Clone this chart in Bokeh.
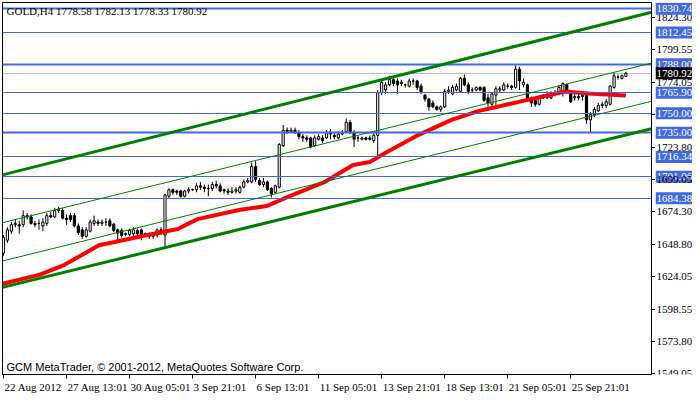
from bokeh.plotting import figure
from bokeh.layouts import column, row
from bokeh.models import Range1d, FixedTicker, Label, ColumnDataSource
from bokeh.core.properties import value
from bokeh.embed import file_html
from bokeh.resources import INLINE

# ---------------- data ----------------
bar_open = [1642, 1652, 1659, 1664, 1664, 1664, 1671, 1670, 1665, 1665,
            1663, 1665, 1671, 1670, 1675, 1675, 1669, 1671, 1671, 1663,
            1660, 1655, 1659, 1665, 1666, 1665, 1666, 1667, 1664.5, 1660,
            1659.5, 1657, 1656.5, 1657, 1659.5, 1660, 1657, 1657, 1655, 1656,
            1660, 1656, 1686, 1691, 1690, 1690, 1686, 1690, 1691, 1691,
            1694, 1693, 1692, 1692, 1695, 1694, 1691, 1690, 1689, 1690,
            1689, 1693, 1697, 1697, 1709, 1698, 1695, 1697, 1692, 1689,
            1693, 1725, 1737, 1736, 1737, 1735, 1732, 1731, 1731, 1725,
            1730, 1731, 1731, 1735, 1733, 1731, 1734, 1736, 1743, 1735,
            1731, 1730, 1731, 1731, 1729, 1733, 1766, 1768, 1772, 1776,
            1775, 1773, 1772, 1771, 1775, 1775, 1771, 1764, 1761, 1758,
            1755, 1753, 1755, 1767, 1765, 1768, 1767, 1777, 1772, 1768,
            1768, 1770, 1770, 1762, 1757, 1764, 1768, 1768, 1771, 1771,
            1770, 1784, 1772, 1772, 1761, 1760, 1757, 1763, 1762, 1762,
            1766, 1765, 1766, 1772, 1765, 1762, 1763, 1763, 1764, 1745,
            1749, 1752, 1756, 1756, 1757, 1770, 1778, 1777, 1778.58]
bar_high = [1656, 1662, 1666, 1668, 1667, 1675, 1673, 1672, 1667, 1668,
            1669, 1673, 1674, 1677, 1678, 1677, 1672, 1673, 1673, 1665,
            1662, 1662, 1668, 1671, 1668, 1668, 1669, 1669, 1665, 1661,
            1661, 1658, 1661, 1662, 1661, 1661, 1658, 1658, 1658, 1661,
            1662, 1688, 1692, 1692, 1691, 1691, 1691, 1693, 1692, 1696,
            1697, 1695, 1695, 1697, 1698, 1696, 1692, 1692, 1693, 1693,
            1694, 1699, 1700, 1712, 1713, 1700, 1700, 1698, 1693, 1695,
            1727, 1741, 1739, 1739, 1739, 1737, 1734, 1733, 1732, 1733,
            1734, 1733, 1737, 1738, 1735, 1736, 1737, 1746, 1745, 1737,
            1733, 1732, 1732, 1733, 1735, 1768, 1776, 1774, 1779, 1778,
            1777, 1776, 1773, 1777, 1777, 1776, 1773, 1765, 1762, 1760,
            1756, 1756, 1769, 1771, 1772, 1773, 1778, 1780, 1774, 1770,
            1771, 1771, 1771, 1765, 1766, 1771, 1771, 1774, 1773, 1772,
            1787, 1786, 1777, 1773, 1763, 1761, 1764, 1765, 1767, 1767,
            1768, 1772, 1774, 1773, 1767, 1765, 1765, 1766, 1766, 1751,
            1755, 1758, 1759, 1761, 1772, 1781, 1780, 1780, 1782.13]
bar_low = [1640, 1650, 1657, 1662, 1657, 1662, 1668, 1664, 1662, 1660,
           1659, 1663, 1669, 1669, 1673, 1668, 1664, 1666, 1662, 1656,
           1653, 1654, 1658, 1663, 1663, 1663, 1663, 1662, 1658, 1652,
           1654, 1655, 1655, 1655, 1656, 1652, 1655, 1653, 1653, 1654,
           1656, 1647, 1684, 1687, 1687, 1685, 1685, 1688, 1690, 1689,
           1691, 1689, 1686, 1690, 1692, 1689, 1688, 1687, 1688, 1688,
           1688, 1692, 1696, 1696, 1697, 1694, 1693, 1690, 1685, 1688,
           1692, 1724, 1734, 1735, 1734, 1730, 1728, 1728, 1723, 1724,
           1729, 1727, 1730, 1730, 1730, 1730, 1733, 1735, 1734, 1724,
           1728, 1729, 1729, 1729, 1727, 1716, 1764, 1765, 1771, 1771,
           1765, 1771, 1770, 1770, 1772, 1768, 1765, 1759, 1752, 1754,
           1752, 1751, 1754, 1765, 1764, 1767, 1766, 1771, 1765, 1766,
           1767, 1767, 1759, 1755, 1755, 1756, 1766, 1767, 1769, 1768,
           1769, 1768, 1770, 1759, 1755, 1755, 1756, 1761, 1761, 1761,
           1763, 1764, 1763, 1765, 1758, 1760, 1760, 1760, 1742, 1735,
           1747, 1751, 1754, 1754, 1756, 1769, 1776, 1776, 1778.33]
bar_close = [1654, 1660, 1664, 1665, 1663, 1671, 1670, 1665, 1664, 1665,
             1666, 1671, 1670, 1675, 1676, 1669, 1668, 1668, 1663, 1658,
             1655, 1660, 1666, 1667, 1665, 1666, 1666, 1663, 1659.5, 1657.5,
             1655.7, 1656.5, 1659.5, 1660, 1657, 1655, 1656, 1655, 1656, 1660,
             1658, 1687, 1691, 1689, 1689, 1686, 1690, 1691, 1691, 1694,
             1693, 1692, 1692, 1695, 1694, 1690, 1690, 1689, 1690, 1691,
             1693, 1697, 1698, 1709, 1699, 1695, 1697, 1691, 1688, 1694,
             1726, 1737, 1736, 1737, 1735, 1732, 1731, 1730, 1724, 1731,
             1732, 1729, 1735, 1734, 1732, 1734, 1735, 1743, 1735, 1730,
             1731, 1731, 1730, 1730, 1733, 1766, 1774, 1772, 1776, 1773,
             1772, 1774, 1772, 1775, 1775, 1770, 1766, 1761, 1755, 1755,
             1753, 1755, 1767, 1768, 1770, 1771, 1777, 1772, 1767, 1768,
             1770, 1768, 1760, 1758, 1765, 1769, 1769, 1772, 1771, 1770,
             1784, 1775, 1774, 1760, 1758, 1757, 1763, 1762, 1763, 1766,
             1765, 1770, 1773, 1766, 1759, 1763, 1762, 1764, 1745, 1749,
             1753, 1756, 1757, 1759, 1771, 1779, 1778, 1779, 1780.92]
bar_index = list(range(len(bar_open)))

# red moving average, sampled along its course
ma_bar = [-0.25, 9.25, 15.5, 24.25, 36, 44.25, 49.25, 59.75, 66.75, 72.5, 81.75,
          88.75, 93, 97.25, 105.5, 113.75, 120.5, 132.5, 142.5, 148.5, 158]
ma_value = [1618.4, 1625.4, 1633.0, 1648.1, 1655.7, 1660.7, 1668.3, 1675.3, 1678.4,
            1685.9, 1697.3, 1710.1, 1712.4, 1719.9, 1733.6, 1744.9, 1751.7, 1760.0,
            1766.8, 1765.3, 1763.8]

# green channel trend lines: price at the left and right chart edges
trend_start_bar = [-0.25, -0.25, -0.25, -0.25]
trend_end_bar = [164.5, 164.5, 164.5, 164.5]
trend_start_price = [1702.5, 1665.5, 1636.0, 1615.6]
trend_end_price = [1828.1, 1788.8, 1759.3, 1738.1]
trend_width = [3, 1, 1, 3]

# horizontal blue levels
level_price = [1830.74, 1812.45, 1788.00, 1765.90, 1750.00, 1735.00, 1716.34, 1701.06, 1684.38]
level_width = [2, 1, 2, 1, 1, 2, 1, 1, 1]

last_price = 1780.92

# axis ticks (price scale); 1748.80 is hidden under a level box, 1699.05 lies on top of one
y_ticks = [1824.30, 1799.55, 1774.05, 1748.80, 1723.80, 1699.05, 1674.30,
           1648.80, 1624.05, 1598.55, 1573.80, 1549.05]
y_tick_shown = [True, True, True, False, True, False, True, True, True, True, True, True]
y_tick_on_top = [1699.05]

x_tick_bar = [0, 16, 32, 48, 64, 80, 96, 112, 128, 144]
x_tick_label = ["22 Aug 2012", "27 Aug 13:01", "30 Aug 05:01", "3 Sep 21:01",
                "6 Sep 13:01", "11 Sep 05:01", "13 Sep 21:01", "18 Sep 13:01",
                "21 Sep 05:01", "25 Sep 21:01"]

title_text = "GOLD,H4  1778.58 1782.13 1778.33 1780.92"
footer_text = "GCM MetaTrader, \u00a9 2001-2012, MetaQuotes Software Corp."

# ---------------- styling ----------------
FONT = "Liberation Sans Narrow"
FONT2 = "Liberation Sans"
BLUE = "#4169E1"
GREEN = "#008000"
X0, X1 = -0.25, 164.5
Y0, Y1 = 1548.3, 1835.6
FRAME_W, FRAME_H = 649, 372
SCALE_W = 37
BORDER_B = 6

# ---------------- main chart ----------------
p = figure(frame_width=FRAME_W, frame_height=FRAME_H, output_backend="svg", toolbar_location=None,
           x_range=Range1d(X0, X1), y_range=Range1d(Y0, Y1), y_axis_location="right",
           min_border_left=2, min_border_top=2, min_border_right=4, min_border_bottom=BORDER_B)
p.grid.visible = False
p.outline_line_color = "black"
p.background_fill_color = "white"
p.border_fill_color = "white"

for ax, ticks in ((p.yaxis[0], y_ticks), (p.xaxis[0], x_tick_bar)):
    ax.ticker = FixedTicker(ticks=ticks)
    ax.major_label_overrides = {t: "" for t in ticks}
    ax.major_label_text_font_size = "0px"
    ax.major_label_standoff = 0
    ax.major_tick_out = 4
    ax.major_tick_in = 0
    ax.minor_tick_out = 0
    ax.minor_tick_in = 0
    ax.axis_line_color = "black"
    ax.major_tick_line_color = "black"

# current price line (grey)
p.hspan(y=[last_price], line_color="#C0C0C0", line_width=1)

# candles
src = ColumnDataSource(dict(
    x=bar_index, o=bar_open, h=bar_high, l=bar_low, c=bar_close,
    top=[max(a, b) for a, b in zip(bar_open, bar_close)],
    bottom=[min(a, b) for a, b in zip(bar_open, bar_close)],
    fill=["white" if c >= o else "black" for o, c in zip(bar_open, bar_close)],
))
p.segment(x0="x", y0="l", x1="x", y1="h", source=src, line_color="black", line_width=1)
p.vbar(x="x", width=0.55, top="top", bottom="bottom", source=src,
       fill_color="fill", line_color="black", line_width=1)

# moving average
p.line(ma_bar, ma_value, line_color="#FF0000", line_width=4)

# levels
lsrc = ColumnDataSource(dict(y=level_price, w=level_width))
p.hspan(y="y", line_width="w", source=lsrc, line_color=BLUE)

# trend lines
tsrc = ColumnDataSource(dict(x0=trend_start_bar, x1=trend_end_bar,
                             y0=trend_start_price, y1=trend_end_price, w=trend_width))
p.segment(x0="x0", y0="y0", x1="x1", y1="y1", line_width="w", source=tsrc, line_color=GREEN)

# title and footer
p.add_layout(Label(x=X0, y=Y1, x_offset=4, y_offset=-2, text=title_text, text_font=FONT,
                   text_font_size="11px", text_color="black", text_baseline="top"))
p.add_layout(Label(x=X0, y=Y0, x_offset=4, y_offset=2, text=footer_text, text_font=FONT2,
                   text_font_size="11px", text_color="black", text_baseline="bottom"))

# ---------------- price scale strip (right) ----------------
ps = figure(frame_width=SCALE_W, frame_height=FRAME_H, output_backend="svg", toolbar_location=None,
            x_range=Range1d(0, 1), y_range=p.y_range, x_axis_location=None, y_axis_location=None,
            min_border_left=0, min_border_right=0, min_border_top=2, min_border_bottom=BORDER_B)
ps.grid.visible = False
ps.outline_line_color = None
ps.background_fill_color = "white"
ps.border_fill_color = "white"

TXT = dict(text_font=value(FONT), text_font_size="11px", text_baseline="middle", x_offset=1)
shown = [t for t, s in zip(y_ticks, y_tick_shown) if s]
ps.text(x=[0] * len(shown), y=shown, text=[f"{t:.2f}" for t in shown], text_color="black", **TXT)
ps.rect(x=[0.5] * len(level_price), y=level_price, width=1, height=12, height_units="screen",
        fill_color=BLUE, line_color=None)
ps.text(x=[0] * len(level_price), y=level_price, text=[f"{v:.2f}" for v in level_price],
        text_color="white", **TXT)
ps.text(x=[0] * len(y_tick_on_top), y=y_tick_on_top, text=[f"{t:.2f}" for t in y_tick_on_top],
        text_color="black", **TXT)
ps.rect(x=[0.5], y=[last_price], width=1, height=12, height_units="screen",
        fill_color="black", line_color=None)
ps.text(x=[0], y=[last_price], text=[f"{last_price:.2f}"], text_color="white", **TXT)

# ---------------- time scale strip (bottom) ----------------
ts = figure(frame_width=FRAME_W, frame_height=14, output_backend="svg", toolbar_location=None,
            x_range=p.x_range, y_range=Range1d(0, 1), x_axis_location=None, y_axis_location=None,
            min_border_left=2, min_border_right=4 + SCALE_W, min_border_top=0, min_border_bottom=0)
ts.grid.visible = False
ts.outline_line_color = None
ts.background_fill_color = "white"
ts.border_fill_color = "white"
ts.text(x=x_tick_bar, y=[1] * len(x_tick_bar), text=x_tick_label, x_offset=1,
        text_font=value(FONT), text_font_size="11px", text_color="black", text_baseline="top")

layout = column(row(p, ps), ts)
open("out.html", "w").write(file_html(layout, INLINE))
